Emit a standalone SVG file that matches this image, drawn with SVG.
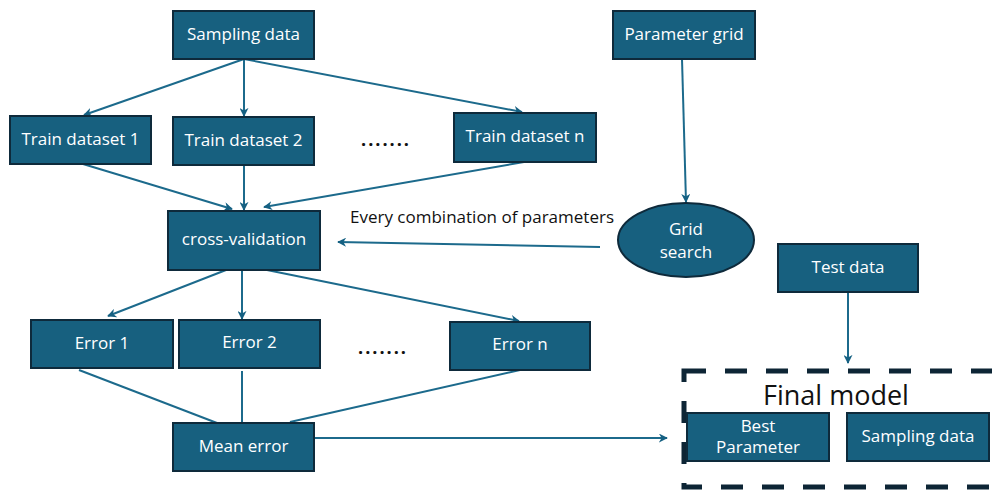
<svg xmlns="http://www.w3.org/2000/svg" width="992" height="491" viewBox="0 0 992 491">
<defs>
<marker id="ah" viewBox="0 0 10 10" refX="9" refY="5" markerWidth="9" markerHeight="9" markerUnits="userSpaceOnUse" orient="auto">
<path d="M0,0 L10,5 L0,10 L3,5 Z" fill="#156082"/>
</marker>
<style>
.box{fill:#17607f;stroke:#0e2a3b;stroke-width:2}
.t{fill:#ffffff;font-family:"Open Sans","Liberation Sans",sans-serif;font-size:17px;text-anchor:middle}
.k{fill:#111111;font-family:"Open Sans","Liberation Sans",sans-serif}
.c{stroke:#1c6a8c;stroke-width:2;fill:none}
.a{marker-end:url(#ah)}
</style>
</defs>
<rect width="992" height="491" fill="#ffffff"/>

<g id="connectors">
<line class="c a" x1="244" y1="59" x2="84" y2="115"/>
<line class="c a" x1="244" y1="59" x2="244" y2="116"/>
<line class="c a" x1="244" y1="59" x2="522" y2="112"/>
<line class="c a" x1="83" y1="164" x2="232" y2="209"/>
<line class="c a" x1="244" y1="165" x2="244" y2="210"/>
<line class="c a" x1="524" y1="162" x2="264" y2="207"/>
<line class="c a" x1="682" y1="59" x2="686" y2="202"/>
<line class="c a" x1="600" y1="247" x2="338" y2="242"/>
<line class="c a" x1="226" y1="270" x2="108" y2="316"/>
<line class="c a" x1="242" y1="270" x2="242" y2="319"/>
<line class="c a" x1="262" y1="269" x2="519" y2="321"/>
<line class="c" x1="79" y1="370" x2="217" y2="423"/>
<line class="c" x1="242" y1="371" x2="242" y2="423"/>
<line class="c" x1="520" y1="370" x2="290" y2="422"/>
<line class="c a" x1="314" y1="438" x2="667" y2="438"/>
<line class="c a" x1="848" y1="292" x2="848" y2="363"/>
</g>

<g id="sampling-data">
<rect class="box" x="173" y="11" width="141" height="48"/>
<text class="t" x="243.5" y="40">Sampling data</text>
</g>
<g id="parameter-grid">
<rect class="box" x="613" y="11" width="142" height="48"/>
<text class="t" x="684" y="40">Parameter grid</text>
</g>
<g id="train-1">
<rect class="box" x="10" y="116" width="141" height="48"/>
<text class="t" x="80.5" y="145">Train dataset 1</text>
</g>
<g id="train-2">
<rect class="box" x="173" y="117" width="141" height="48"/>
<text class="t" x="243.5" y="146">Train dataset 2</text>
</g>
<g id="dots-1">
<text class="k" x="386" y="146" font-size="18" font-weight="bold" text-anchor="middle" letter-spacing="2">.......</text>
</g>
<g id="train-n">
<rect class="box" x="454" y="113" width="142" height="49"/>
<text class="t" x="525" y="142">Train dataset n</text>
</g>
<g id="grid-search">
<ellipse class="box" cx="686" cy="240" rx="68" ry="37"/>
<text class="t" x="686" y="235">Grid</text>
<text class="t" x="686" y="258">search</text>
</g>
<g id="label-every">
<text class="k" x="482" y="223" font-size="17" text-anchor="middle">Every combination of parameters</text>
</g>
<g id="cross-validation">
<rect class="box" x="168" y="211" width="152" height="59"/>
<text class="t" x="244" y="245">cross-validation</text>
</g>
<g id="test-data">
<rect class="box" x="778" y="244" width="140" height="48"/>
<text class="t" x="848" y="273">Test data</text>
</g>
<g id="error-1">
<rect class="box" x="31" y="320" width="142" height="48"/>
<text class="t" x="102" y="349">Error 1</text>
</g>
<g id="error-2">
<rect class="box" x="179" y="320" width="141" height="48"/>
<text class="t" x="249.5" y="348">Error 2</text>
</g>
<g id="dots-2">
<text class="k" x="383" y="354" font-size="18" font-weight="bold" text-anchor="middle" letter-spacing="2">.......</text>
</g>
<g id="error-n">
<rect class="box" x="450" y="322" width="140" height="48"/>
<text class="t" x="520" y="350">Error n</text>
</g>
<g id="mean-error">
<rect class="box" x="173" y="423" width="141" height="48"/>
<text class="t" x="243.5" y="452">Mean error</text>
</g>
<g id="final-model">
<rect x="684" y="371" width="320" height="116" fill="none" stroke="#0d2535" stroke-width="5" stroke-dasharray="22 19"/>
<text class="k" x="836" y="405" font-size="27" text-anchor="middle">Final model</text>
</g>
<g id="best-parameter">
<rect class="box" x="687" y="413" width="142" height="48"/>
<text class="t" x="758" y="432">Best</text>
<text class="t" x="758" y="453">Parameter</text>
</g>
<g id="sampling-data-2">
<rect class="box" x="847" y="413" width="142" height="48"/>
<text class="t" x="918" y="442">Sampling data</text>
</g>
</svg>
